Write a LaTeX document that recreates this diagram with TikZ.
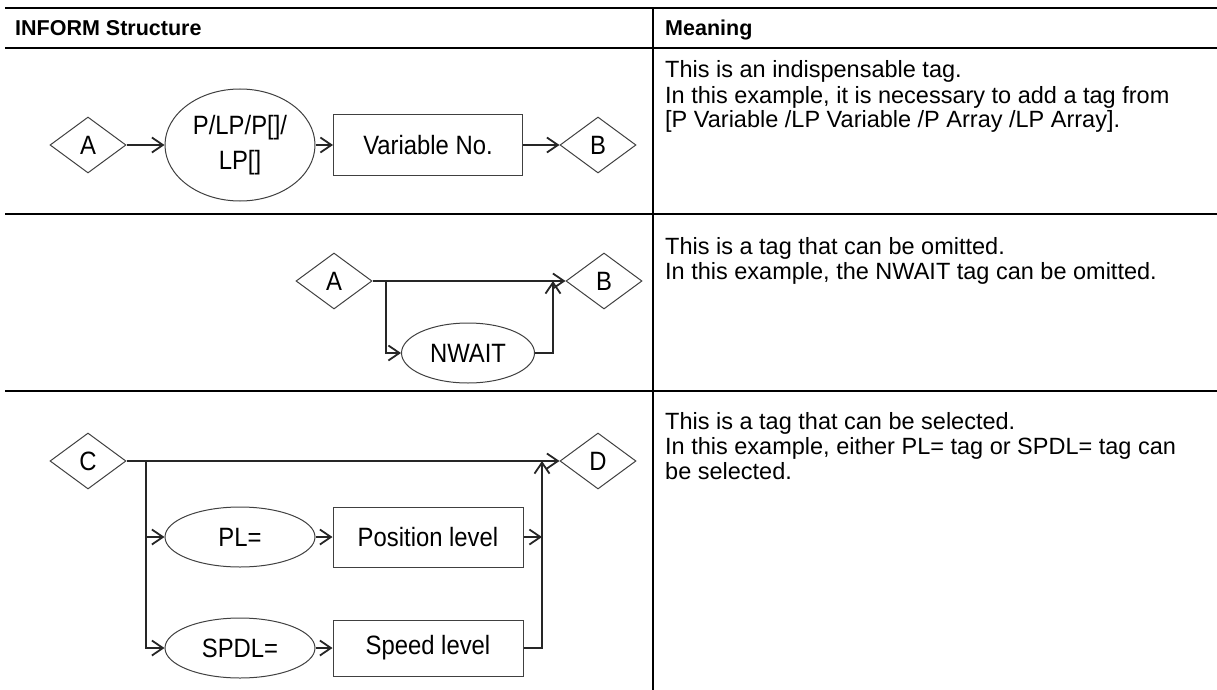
\documentclass[tikz,border=0pt]{standalone}
\usepackage{fontspec}
\setmainfont{Liberation Sans}
\newfontfamily\diagfont[FakeStretch=0.9]{Liberation Sans}
\usepackage{tikz}
\usetikzlibrary{
	shapes.geometric,
	arrows.meta
}
\tikzset{
	table rule/.style={
		line width=2.6pt,
		black
	},
	head/.style={
		anchor=base west,
		inner sep=0pt,
		font=\bfseries\fontsize{21.5}{25}\selectfont
	},
	meaning/.style={
		anchor=base west,
		inner sep=0pt,
		font=\fontsize{23.5}{25}\selectfont
	},
	tag/.style={
		draw=black!75,
		line width=1pt,
		inner sep=0pt,
		font=\diagfont\fontsize{26.5}{35}\selectfont
	},
	tag diamond/.style={
		tag,
		diamond,
		aspect=1.36,
		minimum width=76pt,
		minimum height=56pt
	},
	tag ellipse/.style={
		tag,
		ellipse,
		minimum width=150pt,
		minimum height=60pt
	},
	tag box/.style={
		tag,
		rectangle,
		minimum width=190pt,
		minimum height=60pt
	},
	flow/.style={
		line width=1.8pt,
		black!85,
		-{Straight Barb[length=11pt,width=15pt]}
	}
}

\begin{document}
\begin{tikzpicture}[x=1pt,y=-1pt] %%%%% table
		\useasboundingbox (0,0) rectangle (1217,690);
		\draw[table rule] (5,8) -- (1217,8);
		\draw[table rule] (5,48) -- (1217,48);
		\draw[table rule] (5,214) -- (1217,214);
		\draw[table rule] (5,391) -- (1217,391);
		\draw[table rule] (653,8) -- (653,690);
		\node[head] (hstruct) at (15,36) {INFORM Structure};
		\node[head] (hmean) at (665,36) {Meaning};

		% indispensable tag
		\node[meaning] (m1a) at (665,78) {This is an indispensable tag.};
		\node[meaning] (m1b) at (665,103) {In this example, it is necessary to add a tag from};
		\node[meaning] (m1c) at (665,128) {[P Variable /LP Variable /P Array /LP Array].};
		\node[tag diamond] (a1) at (88,145) {A};
		\node[tag ellipse, minimum height=112pt, align=center] (pvar) at (240,145) {P/LP/P[]/\\LP[]};
		\node[tag box, minimum width=189pt, minimum height=61pt] (varno) at (428,145) {Variable No.};
		\node[tag diamond] (b1) at (598,145) {B};
		\draw[flow] (a1.east) -- (pvar.west);
		\draw[flow] (pvar.east) -- (varno.west);
		\draw[flow] (varno.east) -- (b1.west);

		% tag that can be omitted
		\node[meaning] (m2a) at (665,254) {This is a tag that can be omitted.};
		\node[meaning] (m2b) at (665,279) {In this example, the NWAIT tag can be omitted.};
		\node[tag diamond] (a2) at (334,281) {A};
		\node[tag diamond] (b2) at (604,281) {B};
		\node[tag ellipse, minimum width=133pt] (nwait) at (468,353) {NWAIT};
		\coordinate (fork2) at (386,281);
		\coordinate (join2) at (553,281);
		\draw[flow] (a2.east) -- (b2.west);
		\draw[flow] (fork2) |- (nwait.west);
		\draw[flow] (nwait.east) -| (join2);

		% tag that can be selected
		\node[meaning] (m3a) at (665,429) {This is a tag that can be selected.};
		\node[meaning] (m3b) at (665,454) {In this example, either PL= tag or SPDL= tag can};
		\node[meaning] (m3c) at (665,479) {be selected.};
		\node[tag diamond] (c3) at (88,461) {C};
		\node[tag diamond] (d3) at (598,461) {D};
		\node[tag ellipse] (pl) at (240,537) {PL=};
		\node[tag box] (poslv) at (428,537) {Position level};
		\node[tag ellipse] (spdl) at (240,648) {SPDL=};
		\node[tag box, minimum height=56pt] (spdlv) at (428,648) {Speed level};
		\coordinate (fork3) at (146,461);
		\coordinate (join3) at (542,461);
		\draw[flow] (c3.east) -- (d3.west);
		\draw[flow] (fork3) |- (pl.west);
		\draw[flow] (fork3) |- (spdl.west);
		\draw[flow] (pl.east) -- (poslv.west);
		\draw[flow] (spdl.east) -- (spdlv.west);
		\draw[flow] (poslv.east) -- (poslv.east -| join3);
		\draw[flow] (spdlv.east) -| (join3);
\end{tikzpicture}
\end{document}
